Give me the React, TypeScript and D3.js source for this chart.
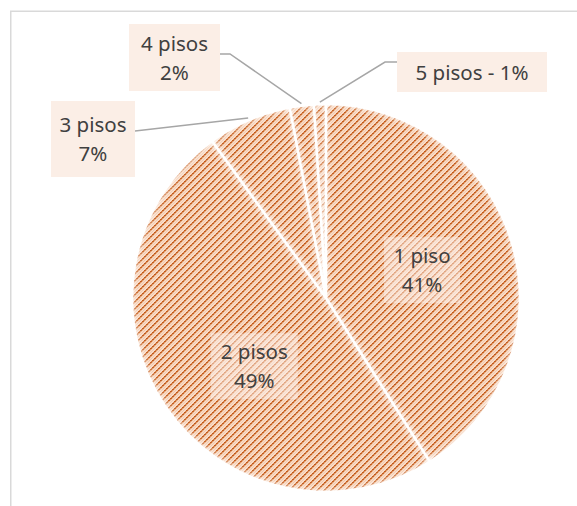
import React from "react";
import * as d3 from "d3";

const categories = ["1 piso", "2 pisos", "3 pisos", "4 pisos", "5 pisos"];
const values = [41, 49, 7, 2, 1];
const percentLabels = ["41%", "49%", "7%", "2%", "1%"];

const W = 577;
const H = 506;
const CX = 326;
const CY = 298;
const R = 194;
const FONT = "'Noto Sans', 'DejaVu Sans', sans-serif";
const FS = 20.5;
const LINE = 29;
const TEXT_COLOR = "#404040";

// label layout (boxes outside the pie)
const outside: Record<number, { x: number; y: number; w: number; h: number; oneLine?: boolean; elbow: [number, number][] }> = {
  2: { x: 51, y: 101, w: 84, h: 76, elbow: [[135, 131]] },
  3: { x: 129, y: 24, w: 91, h: 67, elbow: [[220, 54], [230, 54]] },
  4: { x: 397, y: 52, w: 150, h: 40, oneLine: true, elbow: [[397, 62], [385, 62]] },
};
const insideNudge: Record<number, [number, number]> = { 0: [0, 0], 1: [11, 12] };

function patternRects() {
  const size = 14;
  const out: JSX.Element[] = [];
  for (let x = 0; x < size; x++) {
    for (let y = 0; y < size; y++) {
      const k = (x + y) % 7;
      let c: string | null = null;
      if (k === 0) c = x % 2 === 0 ? "#C0561A" : "#D47E47";
      else if (k === 1) c = x % 2 === 0 ? "#D98A57" : "#C86523";
      else if (k === 2) c = "#EDBB98";
      else if (k === 4) c = "#F1C9AD";
      if (c) out.push(<rect key={`${x}-${y}`} x={x} y={y} width={1} height={1} fill={c} />);
    }
  }
  return out;
}

export default function App() {
  const pie = d3.pie<number>().sort(null).startAngle(0).endAngle(2 * Math.PI);
  const arcs = pie(values);
  const arc = d3.arc<d3.PieArcDatum<number>>().innerRadius(0).outerRadius(R);
  const edgeArc = d3.arc<d3.PieArcDatum<number>>().innerRadius(R + 2).outerRadius(R + 2);
  const innerArc = d3.arc<d3.PieArcDatum<number>>().innerRadius(100).outerRadius(100);

  return (
    <svg width={W} height={H} style={{ position: "absolute", left: 0, top: 0 }} fontFamily={FONT}>
      <defs>
        <pattern id="hatch" patternUnits="userSpaceOnUse" width={14} height={14}>
          <rect width={14} height={14} fill="#F9DCC8" />
          {patternRects()}
        </pattern>
        <filter id="soft" x="-10%" y="-10%" width="120%" height="120%">
          <feMorphology in="SourceAlpha" operator="erode" radius="2" result="e" />
          <feGaussianBlur in="e" stdDeviation="3" result="b" />
          <feComposite in="SourceGraphic" in2="b" operator="in" />
        </filter>
      </defs>
      <rect x={0} y={0} width={W} height={H} fill="#ffffff" />
      <rect x={10.75} y={11.25} width={700} height={700} fill="none" stroke="#D9D9D9" strokeWidth={1.5} />

      <g transform={`translate(${CX},${CY})`}>
        {arcs.map((a, i) => (
          <path key={categories[i]} d={arc(a) || ""} fill="url(#hatch)" stroke="#ffffff" strokeWidth={2.5} strokeLinejoin="round" filter="url(#soft)" />
        ))}
      </g>

      {/* leader lines */}
      {arcs.map((a, i) => {
        const o = outside[i];
        if (!o) return null;
        const [ex, ey] = edgeArc.centroid(a);
        const pts = [...o.elbow, [ex + CX, ey + CY]];
        return (
          <polyline key={`l${i}`} points={pts.map((p) => p.join(",")).join(" ")} fill="none" stroke="#A6A6A6" strokeWidth={1.5} />
        );
      })}

      {/* outside labels */}
      {arcs.map((a, i) => {
        const o = outside[i];
        if (!o) return null;
        const cx = o.x + o.w / 2;
        const cy = o.y + o.h / 2;
        return (
          <g key={`o${i}`}>
            <rect x={o.x} y={o.y} width={o.w} height={o.h} fill="#FBEEE6" />
            {o.oneLine ? (
              <text x={cx} y={cy + 7.5} textAnchor="middle" fontSize={FS} fill={TEXT_COLOR}>
                {`${categories[i]} - ${percentLabels[i]}`}
              </text>
            ) : (
              <>
                <text x={cx} y={cy - LINE / 2 + 7.5} textAnchor="middle" fontSize={FS} fill={TEXT_COLOR}>
                  {categories[i]}
                </text>
                <text x={cx} y={cy + LINE / 2 + 7.5} textAnchor="middle" fontSize={FS} fill={TEXT_COLOR}>
                  {percentLabels[i]}
                </text>
              </>
            )}
          </g>
        );
      })}

      {/* inside labels */}
      {arcs.map((a, i) => {
        if (outside[i]) return null;
        const [lx, ly] = innerArc.centroid(a);
        const [nx, ny] = insideNudge[i] || [0, 0];
        const cx = CX + lx + nx;
        const cy = CY + ly + ny;
        const bw = categories[i].length * 11 + 10;
        return (
          <g key={`i${i}`}>
            <rect x={cx - bw / 2} y={cy - 33} width={bw} height={66} fill="#FDF2EB" opacity={0.5} />
            <text x={cx} y={cy - LINE / 2 + 7.5} textAnchor="middle" fontSize={FS} fill={TEXT_COLOR}>
              {categories[i]}
            </text>
            <text x={cx} y={cy + LINE / 2 + 7.5} textAnchor="middle" fontSize={FS} fill={TEXT_COLOR}>
              {percentLabels[i]}
            </text>
          </g>
        );
      })}
    </svg>
  );
}
